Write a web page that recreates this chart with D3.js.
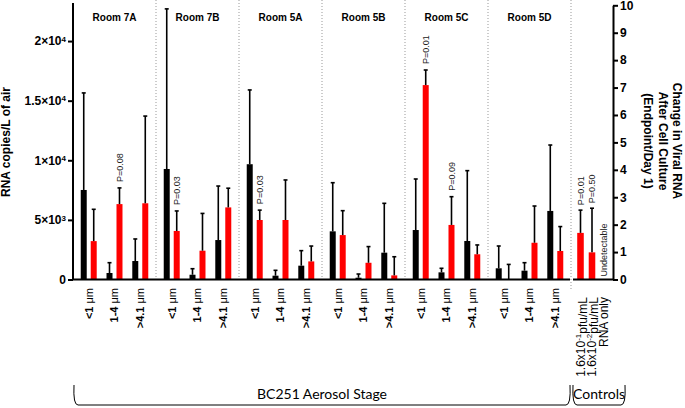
<!DOCTYPE html>
<html>
<head>
<meta charset="utf-8">
<script src="https://cdn.jsdelivr.net/npm/d3@7"></script>
<style>
  body { margin: 0; background: #fff; }
  svg { display: block; font-family: "Liberation Sans", Arial, sans-serif; }
</style>
</head>
<body>
<svg id="chart" width="685" height="408"></svg>
<script>
// ---- data ----
const rooms = ["Room 7A", "Room 7B", "Room 5A", "Room 5B", "Room 5C", "Room 5D"];
const sizes = ["<1", "1-4", ">4.1"];

// RNA copies / L of air (black bars, left axis), mean and SD per room x size
const rnaMean = [
  [7510, 545, 1550],
  [9270, 400, 3310],
  [9670, 320, 1160],
  [4040, 150, 2250],
  [4150, 600, 3230],
  [940, 740, 5750],
];
const rnaSd = [
  [8140, 865, 1850],
  [13430, 505, 4530],
  [6230, 450, 1260],
  [4080, 310, 4140],
  [4280, 340, 5900],
  [1870, 670, 5530],
];

// change in viral RNA after culture (red bars, right axis)
const foldMean = [
  [1.40, 2.75, 2.78],
  [1.77, 1.05, 2.63],
  [2.17, 2.17, 0.66],
  [1.62, 0.61, 0.15],
  [7.09, 1.99, 0.92],
  [0, 1.34, 1.04],
];
const foldSd = [
  [1.16, 0.59, 3.18],
  [0.73, 1.36, 0.70],
  [0.36, 1.46, 0.56],
  [0.89, 0.59, 0.68],
  [0.55, 1.03, 0.34],
  [0.55, 1.34, 0.89],
];
const pValues = [
  [null, "P=0.08", null],
  ["P=0.03", null, null],
  ["P=0.03", null, null],
  [null, null, null],
  ["P=0.01", "P=0.09", null],
  [null, null, null],
];

const controls = ["1.6e-1", "1.6e-2", "RNA only"];
const controlFold = [1.70, 0.99, null];
const controlSd = [0.83, 1.61, null];
const controlP = ["P=0.01", "P=0.50", null];

const leftTicks = [0, 5000, 10000, 15000, 20000];
const rightTicks = [0, 1, 2, 3, 4, 5, 6, 7, 8, 9, 10];

// ---- layout ----
const x0 = 73, xSplit = 571, xRight = 613;
const yBase = 279.5, yTop = 5.3;
const red = "#ff0000";

const svg = d3.select("#chart");

const yLeft = d3.scaleLinear().domain([0, 23000]).range([yBase, yTop]);
const yRight = d3.scaleLinear().domain([0, 10]).range([yBase, yTop]);

const xRoom = d3.scaleBand().domain(rooms).range([x0, xSplit]);
const xSize = d3.scaleBand().domain(sizes).range([0, xRoom.bandwidth()])
  .paddingInner(0.38).paddingOuter(0.3);
const xSeries = d3.scaleBand().domain(["rna", "fold"]).range([0, xSize.bandwidth()])
  .paddingInner(0.4);
const xCtrl = d3.scaleBand().domain(controls).range([xSplit, xRight])
  .paddingInner(0.43).paddingOuter(0.54);

const rows = [];
rooms.forEach((room, i) => {
  sizes.forEach((size, j) => {
    rows.push({
      room, size,
      rna: rnaMean[i][j], rnaSd: rnaSd[i][j],
      fold: foldMean[i][j], foldSd: foldSd[i][j],
      p: pValues[i][j],
    });
  });
});
const gx = (d) => xRoom(d.room) + xSize(d.size);

// room separators
const seps = rooms.slice(1).map((r) => xRoom(r)).concat([xSplit]);
svg.append("g").selectAll("line").data(seps).join("line")
  .attr("x1", (d) => d).attr("x2", (d) => d)
  .attr("y1", 0).attr("y2", (d, i) => (i === seps.length - 1 ? 290 : yBase))
  .attr("stroke", "#999").attr("stroke-width", 1).attr("stroke-dasharray", "1,2");

// room labels
svg.append("g").selectAll("text").data(rooms).join("text")
  .attr("x", (d) => xRoom(d) + xRoom.bandwidth() / 2)
  .attr("y", 21)
  .attr("text-anchor", "middle")
  .attr("font-size", 10).attr("font-weight", "bold")
  .text((d) => d);

function errorBar(g, cx, yFrom, yTo) {
  g.append("line").attr("x1", cx).attr("x2", cx).attr("y1", yFrom).attr("y2", yTo)
    .attr("stroke", "#000").attr("stroke-width", 1.6);
  g.append("line").attr("x1", cx - 2).attr("x2", cx + 2).attr("y1", yTo).attr("y2", yTo)
    .attr("stroke", "#000").attr("stroke-width", 1.6);
}

const bars = svg.append("g");
const bw = xSeries.bandwidth();

// black bars: RNA copies
bars.selectAll("rect.rna").data(rows).join("rect").attr("class", "rna")
  .attr("x", (d) => gx(d) + xSeries("rna"))
  .attr("y", (d) => yLeft(d.rna))
  .attr("width", bw)
  .attr("height", (d) => yBase - yLeft(d.rna))
  .attr("fill", "#000");

// red bars: change after culture
bars.selectAll("rect.fold").data(rows).join("rect").attr("class", "fold")
  .attr("x", (d) => gx(d) + xSeries("fold"))
  .attr("y", (d) => yRight(d.fold))
  .attr("width", bw)
  .attr("height", (d) => yBase - yRight(d.fold))
  .attr("fill", red);

const errs = svg.append("g");
rows.forEach((d) => {
  const cb = gx(d) + xSeries("rna") + bw / 2;
  errorBar(errs, cb, yLeft(d.rna), yLeft(d.rna + d.rnaSd));
  const cr = gx(d) + xSeries("fold") + bw / 2;
  errorBar(errs, cr, yRight(d.fold), yRight(d.fold + d.foldSd));
});

// controls
const cbw = xCtrl.bandwidth();
controls.forEach((c, i) => {
  if (controlFold[i] === null) return;
  bars.append("rect")
    .attr("x", xCtrl(c)).attr("y", yRight(controlFold[i]))
    .attr("width", cbw).attr("height", yBase - yRight(controlFold[i]))
    .attr("fill", red);
  errorBar(errs, xCtrl(c) + cbw / 2, yRight(controlFold[i]), yRight(controlFold[i] + controlSd[i]));
});

// p value labels
const pLab = svg.append("g").attr("font-size", 9).attr("fill", "#222");
function pText(cx, y, txt) {
  pLab.append("text")
    .attr("transform", `translate(${cx},${y}) rotate(-90)`)
    .attr("dy", "0.35em")
    .text(txt);
}
rows.filter((d) => d.p).forEach((d) => {
  pText(gx(d) + xSeries("fold") + bw / 2, yRight(d.fold + d.foldSd) - 6, d.p);
});
controls.forEach((c, i) => {
  if (controlP[i]) pText(xCtrl(c) + cbw / 2, yRight(controlFold[i] + controlSd[i]) - 5, controlP[i]);
});
pLab.append("text")
  .attr("transform", `translate(${xCtrl("RNA only") + cbw / 2},${yBase - 3}) rotate(-90)`)
  .attr("dy", "0.35em")
  .text("Undetectable");

// baseline (broken at the controls separator)
svg.append("line").attr("x1", x0).attr("x2", xSplit - 1).attr("y1", yBase).attr("y2", yBase)
  .attr("stroke", "#000").attr("stroke-width", 2);
svg.append("line").attr("x1", xSplit + 2).attr("x2", xRight).attr("y1", yBase).attr("y2", yBase)
  .attr("stroke", "#000").attr("stroke-width", 2);

// left axis
const axL = svg.append("g").attr("transform", `translate(${x0},0)`)
  .call(d3.axisLeft(yLeft).tickValues(leftTicks).tickSize(5).tickSizeOuter(0).tickPadding(2));
axL.select(".domain").attr("stroke-width", 2).attr("d", `M0,${yBase}V3`);
axL.selectAll(".tick line").attr("stroke-width", 2);
axL.selectAll(".tick text").attr("font-size", 12).attr("font-weight", "bold")
  .attr("font-family", "Liberation Sans, Arial, sans-serif")
  .each(function (v) {
    const t = d3.select(this).text("");
    if (v === 0) { t.text("0"); return; }
    const e = Math.floor(Math.log10(v));
    const m = +(v / Math.pow(10, e)).toFixed(1);
    t.append("tspan").text(m + "\u00d710");
    t.append("tspan").attr("font-size", 8).attr("dy", "-0.45em").text(e);
  });

// right axis
const axR = svg.append("g").attr("transform", `translate(${xRight},0)`)
  .call(d3.axisRight(yRight).tickValues(rightTicks).tickSize(5).tickSizeOuter(0).tickPadding(2));
axR.select(".domain").attr("stroke-width", 2);
axR.selectAll(".tick line").attr("stroke-width", 2);
axR.selectAll(".tick text").attr("font-size", 12).attr("font-weight", "bold")
  .attr("font-family", "Liberation Sans, Arial, sans-serif");

// size labels under each group
const xl = svg.append("g").attr("font-size", 11);
rows.forEach((d) => {
  const t = xl.append("text")
    .attr("transform", `translate(${gx(d) + xSize.bandwidth() / 2},288) rotate(-90)`)
    .attr("text-anchor", "end").attr("dy", "0.35em");
  t.append("tspan").attr("font-weight", "bold").text(d.size);
  t.append("tspan").text(" \u03bcm");
});

// control labels
const ctrlLabels = [
  ["1.6x10", "-1", "pfu/mL"],
  ["1.6x10", "-2", "pfu/mL"],
  ["RNA only", "", ""],
];
controls.forEach((c, i) => {
  const t = xl.append("text")
    .attr("transform", `translate(${xCtrl(c) + cbw / 2},297) rotate(-90)`)
    .attr("text-anchor", "end").attr("dy", "0.35em").attr("font-size", 12);
  t.append("tspan").text(ctrlLabels[i][0]);
  if (ctrlLabels[i][1]) {
    t.append("tspan").attr("font-size", 8).attr("dy", "-0.5em").text(ctrlLabels[i][1]);
    t.append("tspan").attr("dy", "0.5em").text(ctrlLabels[i][2]);
  }
});

// axis titles
svg.append("text")
  .attr("transform", "translate(10,142) rotate(-90)")
  .attr("text-anchor", "middle").attr("font-size", 12).attr("font-weight", "bold")
  .text("RNA copies/L of air");

const rTitle = svg.append("text")
  .attr("transform", "translate(673,141) rotate(90)")
  .attr("text-anchor", "middle").attr("font-size", 12).attr("font-weight", "bold");
["Change in Viral RNA", "After Cell Culture", "(Endpoint/Day 1)"].forEach((line, i) => {
  rTitle.append("tspan").attr("x", 0).attr("y", i * 14.5).text(line);
});

// bottom brackets
function bracket(xa, xb, label) {
  const yT = 385, yB = 405;
  svg.append("path")
    .attr("d", `M${xa},${yT} Q${xa - 1},${yB} ${xa + 4},${yB} L${xb - 4},${yB} Q${xb + 1},${yB} ${xb},${yT}`)
    .attr("fill", "none").attr("stroke", "#000").attr("stroke-width", 1);
  svg.append("text")
    .attr("x", (xa + xb) / 2).attr("y", 399)
    .attr("text-anchor", "middle").attr("font-size", 14)
    .attr("font-family", "Lato, 'Open Sans', sans-serif")
    .text(label);
}
bracket(x0 + 1, xSplit - 1, "BC251 Aerosol Stage");
bracket(xSplit + 2, 625, "Controls");
</script>
</body>
</html>
